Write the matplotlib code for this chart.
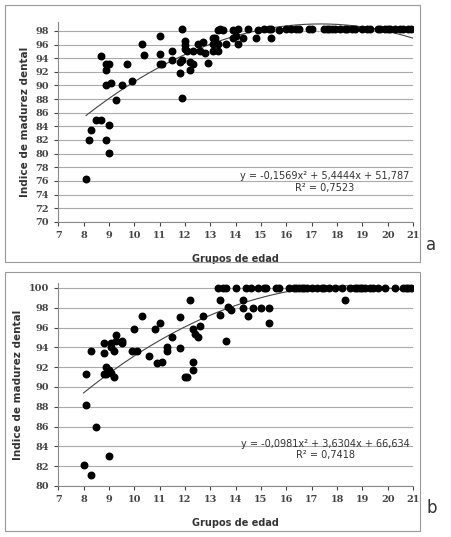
import numpy as np
import matplotlib
matplotlib.use("Agg")
import matplotlib.pyplot as plt
from matplotlib.patches import Rectangle

# panel a
xa = [8.1, 8.2, 8.3, 8.5, 8.7, 8.7, 8.9, 8.9, 8.9, 8.9, 9.0, 9.0, 9.0, 9.1, 9.3, 9.5, 9.7, 9.9,
      10.3, 10.4, 11.0, 11.0, 11.0, 11.1, 11.5, 11.5, 11.8, 11.8, 11.9, 11.9, 11.9, 12.0, 12.0, 12.0,
      12.1, 12.2, 12.2, 12.3, 12.3, 12.5, 12.6, 12.7, 12.8, 12.9, 13.1, 13.1, 13.1, 13.2, 13.3, 13.3,
      13.3, 13.4, 13.5, 13.6, 13.9, 13.9, 14.0, 14.1, 14.1, 14.3, 14.5, 14.8, 14.9, 15.1, 15.3, 15.4,
      15.4, 15.7, 16.0, 16.2, 16.4, 16.5, 16.9, 17.0, 17.5, 17.6, 17.7, 17.8, 17.9, 18.1, 18.3, 18.4,
      18.6, 18.7, 19.0, 19.2, 19.3, 19.6, 19.7, 19.9, 20.0, 20.1, 20.3, 20.5, 20.6, 20.8, 20.9]
ya = [76.3, 82, 83.5, 85, 85, 94.3, 82, 90, 92.2, 93.1, 93.1, 84.2, 80.1, 90.3, 87.8, 90, 93.2, 90.6,
      96.1, 94.5, 97.3, 94.6, 93.2, 93.2, 95.1, 93.7, 91.8, 93.5, 98.3, 88.2, 93.7, 96.5, 96.0, 95.3,
      95.1, 93.5, 92.2, 93.2, 95.1, 96.1, 95.1, 96.4, 94.8, 93.3, 97.0, 96.1, 95.1, 97.0, 98.2, 96.1,
      95.1, 98.3, 98.2, 96.1, 97.0, 98.1, 97.3, 98.3, 96.1, 97.0, 98.3, 97.0, 98.2, 98.3, 98.3, 98.3,
      97.0, 98.2] + [98.3] * 29
coef_a = [-0.1569, 5.4444, 51.787]

# panel b
xb = [8.0, 8.1, 8.1, 8.3, 8.3, 8.5, 8.8, 8.8, 8.8, 8.9, 8.9, 9.0, 9.0, 9.1, 9.1, 9.1, 9.2, 9.2,
      9.3, 9.3, 9.5, 9.5, 9.9, 10.0, 10.1, 10.3, 10.6, 10.8, 10.9, 11.0, 11.1, 11.3, 11.3, 11.5,
      11.8, 11.8, 12.0, 12.1, 12.2, 12.3, 12.3, 12.3, 12.4, 12.5, 12.6, 12.7, 13.3, 13.4, 13.4,
      13.5, 13.6, 13.6, 13.7, 13.8, 14.0, 14.3, 14.3, 14.4, 14.5, 14.6, 14.7, 14.9, 15.0, 15.1,
      15.2, 15.3, 15.3, 15.6, 15.7, 16.1, 16.3, 16.4, 16.5, 16.6, 16.7, 16.8, 17.0, 17.2, 17.4,
      17.5, 17.7, 17.9, 18.2, 18.3, 18.5, 18.7, 18.8, 18.9, 19.0, 19.1, 19.3, 19.4, 19.6, 19.9,
      20.3, 20.6, 20.7, 20.8, 20.9]
yb = [82.1, 91.3, 88.2, 81.1, 93.6, 86, 94.4, 93.4, 91.3, 92, 91.3, 83, 91.7, 94, 94.4, 91.4, 93.6, 91,
      95.2, 94.6, 94.6, 94.4, 93.6, 95.9, 93.6, 97.2, 93.1, 95.9, 92.4, 96.5, 92.5, 93.6, 94, 95,
      97.1, 93.9, 91, 91, 98.8, 95.9, 92.5, 91.7, 95.3, 95, 96.2, 97.2, 100, 98.8, 97.3,
      100, 100, 94.6, 98.1, 97.8, 100, 98.8, 98, 100, 97.2, 100, 98, 100, 98, 100,
      100, 98, 96.5, 100, 100, 100, 100, 100, 100, 100, 100, 100, 100, 100, 100,
      100, 100, 100, 100, 98.8, 100, 100, 100, 100, 100, 100, 100, 100, 100, 100,
      100, 100, 100, 100, 100]
coef_b = [-0.0981, 3.6304, 66.634]

fig = plt.figure(figsize=(4.51, 5.37), dpi=100)
for (x0, y0, w, h) in [(5, 5, 415, 257), (5, 272, 415, 259)]:
    fig.patches.append(Rectangle((x0 / 451, 1 - (y0 + h) / 537), w / 451, h / 537,
                                 transform=fig.transFigure, fill=False, ec="#999999", lw=0.8))

panels = [
    ([0.129, 0.587, 0.787, 0.372], xa, ya, coef_a, (70, 99.3), np.arange(70, 99, 2),
     "y = -0,1569x² + 5,4444x + 51,787\nR² = 0,7523", 0.2, "a", 0.535),
    ([0.129, 0.095, 0.787, 0.378], xb, yb, coef_b, (80, 100.5), np.arange(80, 101, 2),
     "y = -0,0981x² + 3,6304x + 66,634\nR² = 0,7418", 0.18, "b", 0.045),
]
for rect, x, y, coef, ylim, yt, eq, eqy, letter, ly in panels:
    ax = fig.add_axes(rect)
    ax.scatter(x, y, s=22, color="black", zorder=3)
    xs = np.linspace(x[0], 21, 200)
    ax.plot(xs, np.polyval(coef, xs), color="#444444", lw=0.8, zorder=2)
    ax.set_xlim(7, 21)
    ax.set_ylim(*ylim)
    ax.set_xticks(range(7, 22))
    ax.set_yticks(yt)
    ax.yaxis.grid(True, color="#aaaaaa", lw=0.8)
    ax.set_axisbelow(True)
    for s in ["top", "right"]:
        ax.spines[s].set_visible(False)
    for s in ["left", "bottom"]:
        ax.spines[s].set_color("#888888")
    ax.tick_params(labelsize=7, colors="#444444", length=3)
    for lab in ax.get_xticklabels() + ax.get_yticklabels():
        lab.set_fontweight("bold")
        lab.set_family("DejaVu Serif")
    ax.set_ylabel("Indice de madurez dental", fontsize=7.5, fontweight="bold", color="#333333")
    ax.set_xlabel("Grupos de edad", fontsize=7, fontweight="bold", color="#333333", labelpad=10)
    ax.text(0.99, eqy, eq, transform=ax.transAxes, ha="right", va="center", fontsize=7,
            color="#333333", multialignment="center")
    fig.text(0.945, ly, letter, fontsize=12, color="#333333")

fig.savefig("out.png", dpi=100)
